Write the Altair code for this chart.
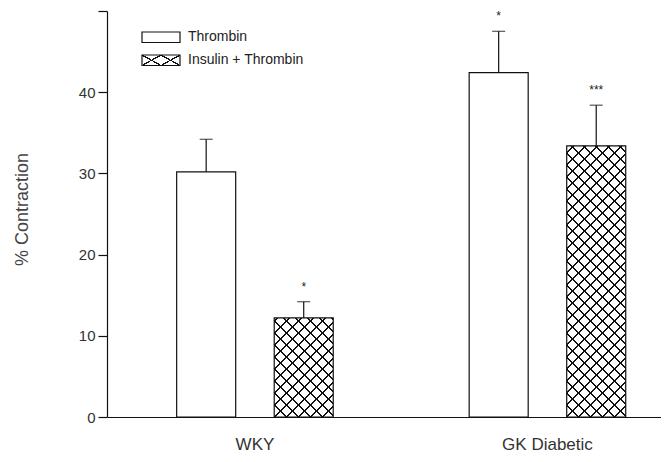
import altair as alt
import pandas as pd

# ---------------- data ----------------
GROUPS = ["WKY", "GK Diabetic"]
TREATMENTS = ["Thrombin", "Insulin + Thrombin"]
GROUP = ["WKY", "WKY", "GK Diabetic", "GK Diabetic"]
TREAT = ["Thrombin", "Insulin + Thrombin", "Thrombin", "Insulin + Thrombin"]
MEAN = [30.2, 12.2, 42.4, 33.4]
ERR = [4.0, 2.0, 5.1, 5.0]
STARS = ["", "*", "*", "***"]
Y_TICKS = [0, 10, 20, 30, 40, 50]
Y_MAX = 50

df = pd.DataFrame({"group": GROUP, "treatment": TREAT, "mean": MEAN, "err": ERR, "stars": STARS})
df["upper"] = df["mean"] + df["err"]

# ---------------- layout / style ----------------
FONT = "Liberation Sans"
PLOT_W, PLOT_H = 554, 406
PI, PO, ALIGN = 0.316, 0.105, 0.78      # outer band scale
QI, QO = 0.395, 0.223                   # xOffset band scale
step_o = PLOT_W / (2 - PI + 2 * PO)
band_o = step_o * (1 - PI)
step_i = band_o / (2 - QI + 2 * QO)
BAR_W = step_i * (1 - QI)
PX_PER_UNIT = PLOT_H / Y_MAX


def hatch(w, h, a, b, period, thick, rising, bg, ink="#111111"):
    """Linear gradient (object-bbox units) drawing parallel lines a*x +/- b*y = c."""
    S = a * w + b * h
    den = (a * w) ** 2 + (b * h) ** 2
    k = S / den
    if rising:
        x1, y1, x2, y2 = 0, 0, k * a * w, k * b * h
        c0 = (b * h) % period
    else:
        x1, y1, x2, y2 = 0, 1, k * a * w, 1 - k * b * h
        c0 = 0.0
    stops = [{"offset": 0.0, "color": bg}]
    c = c0 - period
    last = 0.0
    while c < S + period:
        lo = max(0.0, min(1.0, (c - thick / 2) / S))
        hi = max(0.0, min(1.0, (c + thick / 2) / S))
        if hi > lo and lo >= last:
            stops += [{"offset": lo, "color": bg}, {"offset": lo, "color": ink},
                      {"offset": hi, "color": ink}, {"offset": hi, "color": bg}]
            last = hi
        c += period
    stops.append({"offset": 1.0, "color": bg})
    return {"gradient": "linear", "x1": x1, "y1": y1, "x2": x2, "y2": y2, "stops": stops}


CLEAR = "rgba(255,255,255,0)"
PERIOD, THICK = 12.0, 2.0

X = alt.X("group:N", sort=GROUPS,
          scale=alt.Scale(domain=GROUPS, paddingInner=PI, paddingOuter=PO, align=ALIGN),
          axis=alt.Axis(title=None, ticks=False, tickSize=0, labelAngle=0, labelFontSize=17,
                        labelFont=FONT, labelColor="#333333", labelPadding=32,
                        labelBaseline="alphabetic",
                        domainColor="#111111", domainWidth=1.2))
XO = alt.XOffset("treatment:N", sort=TREATMENTS,
                 scale=alt.Scale(domain=TREATMENTS, paddingInner=QI, paddingOuter=QO))


def Y(field):
    return alt.Y(f"{field}:Q", scale=alt.Scale(domain=[0, Y_MAX], nice=False, zero=True),
                 axis=alt.Axis(title="% Contraction", values=Y_TICKS, grid=False,
                               labelExpr="datum.value == 50 ? '' : datum.label",
                               tickSize=9, tickColor="#111111", tickWidth=1.2,
                               domainColor="#111111", domainWidth=1.2,
                               labelFont=FONT, labelFontSize=15, labelColor="#333333", labelPadding=3,
                               titleFont=FONT, titleFontSize=18, titleFontWeight="normal",
                               titleColor="#444444", titleAngle=270, titleX=-84.5, titleY=198,
                               titleAlign="center", titleBaseline="middle"))


base = alt.Chart(df)
layers = []

# open (Thrombin) bars
layers.append(base.mark_bar(fill="white", stroke="#111111", strokeWidth=1.2)
              .encode(x=X, xOffset=XO, y=Y("mean"))
              .transform_filter(alt.datum.treatment == TREATMENTS[0]))

# cross-hatched (Insulin + Thrombin) bars
for g, t, m in zip(GROUP, TREAT, MEAN):
    if t != TREATMENTS[1]:
        continue
    h = m * PX_PER_UNIT
    flt = (alt.datum.group == g) & (alt.datum.treatment == t)
    layers.append(base.mark_bar(fill=hatch(BAR_W, h, 1, 1, PERIOD, THICK, True, "white"), strokeWidth=0)
                  .encode(x=X, xOffset=XO, y=Y("mean")).transform_filter(flt))
    layers.append(base.mark_bar(fill=hatch(BAR_W, h, 1, 1, PERIOD, THICK, False, CLEAR),
                                stroke="#111111", strokeWidth=1.2)
                  .encode(x=X, xOffset=XO, y=Y("mean")).transform_filter(flt))

# error bars (upper only) + caps
layers.append(base.mark_rule(color="#111111", strokeWidth=1.2)
              .encode(x=X, xOffset=XO, y=Y("mean"), y2="upper:Q"))
layers.append(base.mark_tick(color="#111111", thickness=1.2, size=13)
              .encode(x=X, xOffset=XO, y=Y("upper")))
# significance stars
layers.append(base.mark_text(font=FONT, fontSize=12, color="#222222", baseline="alphabetic", dy=-11)
              .encode(x=X, xOffset=XO, y=Y("upper"), text="stars:N"))

# manual legend (top-left)
LEG_X, LEG_X2 = 35, 73
LEG_Y = [(21, 31.5), (44, 54.5)]
LEG_TEXT_X = 81
leg_w, leg_h = LEG_X2 - LEG_X, LEG_Y[1][1] - LEG_Y[1][0]
leg0 = alt.Chart(pd.DataFrame({"label": [TREATMENTS[0]]}))
leg1 = alt.Chart(pd.DataFrame({"label": [TREATMENTS[1]]}))
layers.append(leg0.mark_rect(fill="white", stroke="#111111", strokeWidth=1.2)
              .encode(x=alt.value(LEG_X), x2=alt.value(LEG_X2), y=alt.value(LEG_Y[0][0]), y2=alt.value(LEG_Y[0][1])))
la, lb = leg_h, leg_w / 2
lthick = (la ** 2 + lb ** 2) ** 0.5 * 1.2
layers.append(leg1.mark_rect(fill=hatch(leg_w, leg_h, la, lb, la * lb, lthick, True, "white"), strokeWidth=0)
              .encode(x=alt.value(LEG_X), x2=alt.value(LEG_X2), y=alt.value(LEG_Y[1][0]), y2=alt.value(LEG_Y[1][1])))
layers.append(leg1.mark_rect(fill=hatch(leg_w, leg_h, la, lb, la * lb, lthick, False, CLEAR),
                             stroke="#111111", strokeWidth=1.2)
              .encode(x=alt.value(LEG_X), x2=alt.value(LEG_X2), y=alt.value(LEG_Y[1][0]), y2=alt.value(LEG_Y[1][1])))
layers.append(leg0.mark_text(font=FONT, fontSize=14, color="#222222", align="left", baseline="middle")
              .encode(x=alt.value(LEG_TEXT_X), y=alt.value((LEG_Y[0][0] + LEG_Y[0][1]) / 2), text="label:N"))
layers.append(leg1.mark_text(font=FONT, fontSize=14, color="#222222", align="left", baseline="middle")
              .encode(x=alt.value(LEG_TEXT_X), y=alt.value((LEG_Y[1][0] + LEG_Y[1][1]) / 2), text="label:N"))

chart = (alt.layer(*layers)
         .properties(width=PLOT_W, height=PLOT_H,
                     padding={"left": 99, "top": 3, "right": 0, "bottom": 37},
                     autosize=alt.AutoSizeParams(type="none"))
         .configure_view(stroke=None))

chart.save("out.html", embed_options={"renderer": "svg", "actions": False})
